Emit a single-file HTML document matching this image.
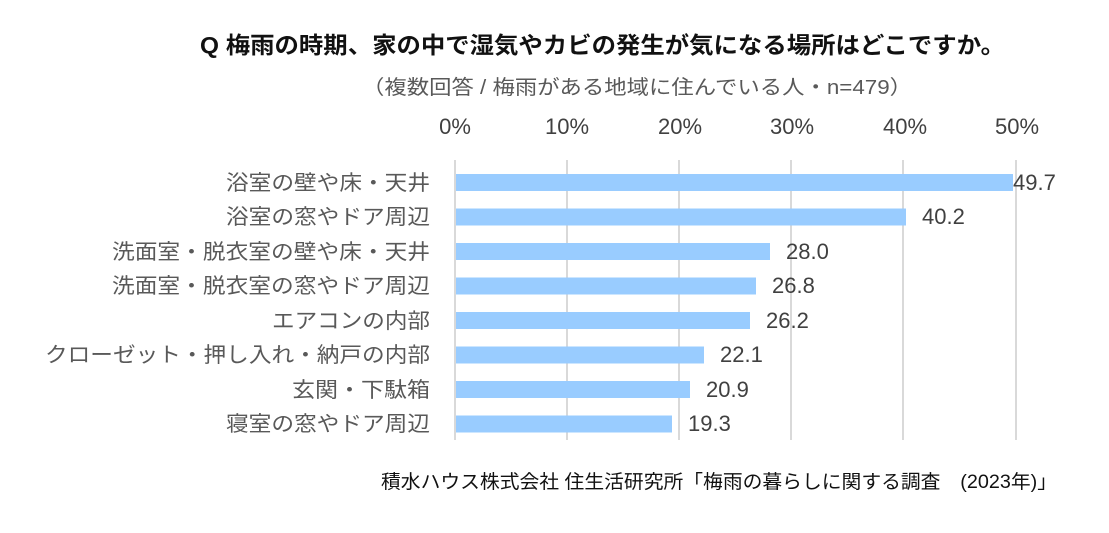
<!DOCTYPE html>
<html><head><meta charset="utf-8"><style>
body{margin:0;background:#fff;}
svg text{font-family:"Liberation Sans","Noto Sans CJK JP",sans-serif;}
</style></head><body>
<svg width="1109" height="528" xmlns="http://www.w3.org/2000/svg">
<text x="200" y="53" font-size="23" font-weight="bold" fill="#111" textLength="805" lengthAdjust="spacingAndGlyphs">Q 梅雨の時期、家の中で湿気やカビの発生が気になる場所はどこですか。</text>
<text x="362" y="94" font-size="20" fill="#595959" textLength="550" lengthAdjust="spacingAndGlyphs">（複数回答 / 梅雨がある地域に住んでいる人・n=479）</text>
<g font-size="22" fill="#404040" text-anchor="middle">
<text x="455" y="134">0%</text><text x="567" y="134">10%</text><text x="680" y="134">20%</text><text x="792" y="134">30%</text><text x="905" y="134">40%</text><text x="1017" y="134">50%</text>
</g>
<g stroke="#d9d9d9" stroke-width="2">
<line x1="455" y1="160" x2="455" y2="440"/><line x1="567" y1="160" x2="567" y2="440"/><line x1="679" y1="160" x2="679" y2="440"/><line x1="791" y1="160" x2="791" y2="440"/><line x1="903" y1="160" x2="903" y2="440"/><line x1="1016" y1="160" x2="1016" y2="440"/>
</g>
<g fill="#99ccff">
<rect x="456" y="174" width="557" height="17"/>
<rect x="456" y="208.5" width="450" height="17"/>
<rect x="456" y="243" width="314" height="17"/>
<rect x="456" y="277.5" width="300" height="17"/>
<rect x="456" y="312" width="294" height="17"/>
<rect x="456" y="346.5" width="248" height="17"/>
<rect x="456" y="381" width="234" height="17"/>
<rect x="456" y="415.5" width="216" height="17"/>
</g>
<g font-size="22" fill="#404040">
<text x="1013" y="190">49.7</text>
<text x="922" y="224">40.2</text>
<text x="786" y="259">28.0</text>
<text x="772" y="293">26.8</text>
<text x="766" y="328">26.2</text>
<text x="720" y="362">22.1</text>
<text x="706" y="397">20.9</text>
<text x="688" y="431">19.3</text>
</g>
<g font-size="21" fill="#595959">
<text x="226" y="190" textLength="204" lengthAdjust="spacingAndGlyphs">浴室の壁や床・天井</text>
<text x="226" y="224" textLength="204" lengthAdjust="spacingAndGlyphs">浴室の窓やドア周辺</text>
<text x="112" y="259" textLength="318" lengthAdjust="spacingAndGlyphs">洗面室・脱衣室の壁や床・天井</text>
<text x="112" y="293" textLength="318" lengthAdjust="spacingAndGlyphs">洗面室・脱衣室の窓やドア周辺</text>
<text x="272" y="328" textLength="158" lengthAdjust="spacingAndGlyphs">エアコンの内部</text>
<text x="45" y="362" textLength="385" lengthAdjust="spacingAndGlyphs">クローゼット・押し入れ・納戸の内部</text>
<text x="292" y="397" textLength="138" lengthAdjust="spacingAndGlyphs">玄関・下駄箱</text>
<text x="226" y="431" textLength="204" lengthAdjust="spacingAndGlyphs">寝室の窓やドア周辺</text>
</g>
<text x="381" y="488" font-size="19" fill="#111" textLength="676" lengthAdjust="spacingAndGlyphs">積水ハウス株式会社 住生活研究所「梅雨の暮らしに関する調査　(2023年)」</text>
</svg>
</body></html>
